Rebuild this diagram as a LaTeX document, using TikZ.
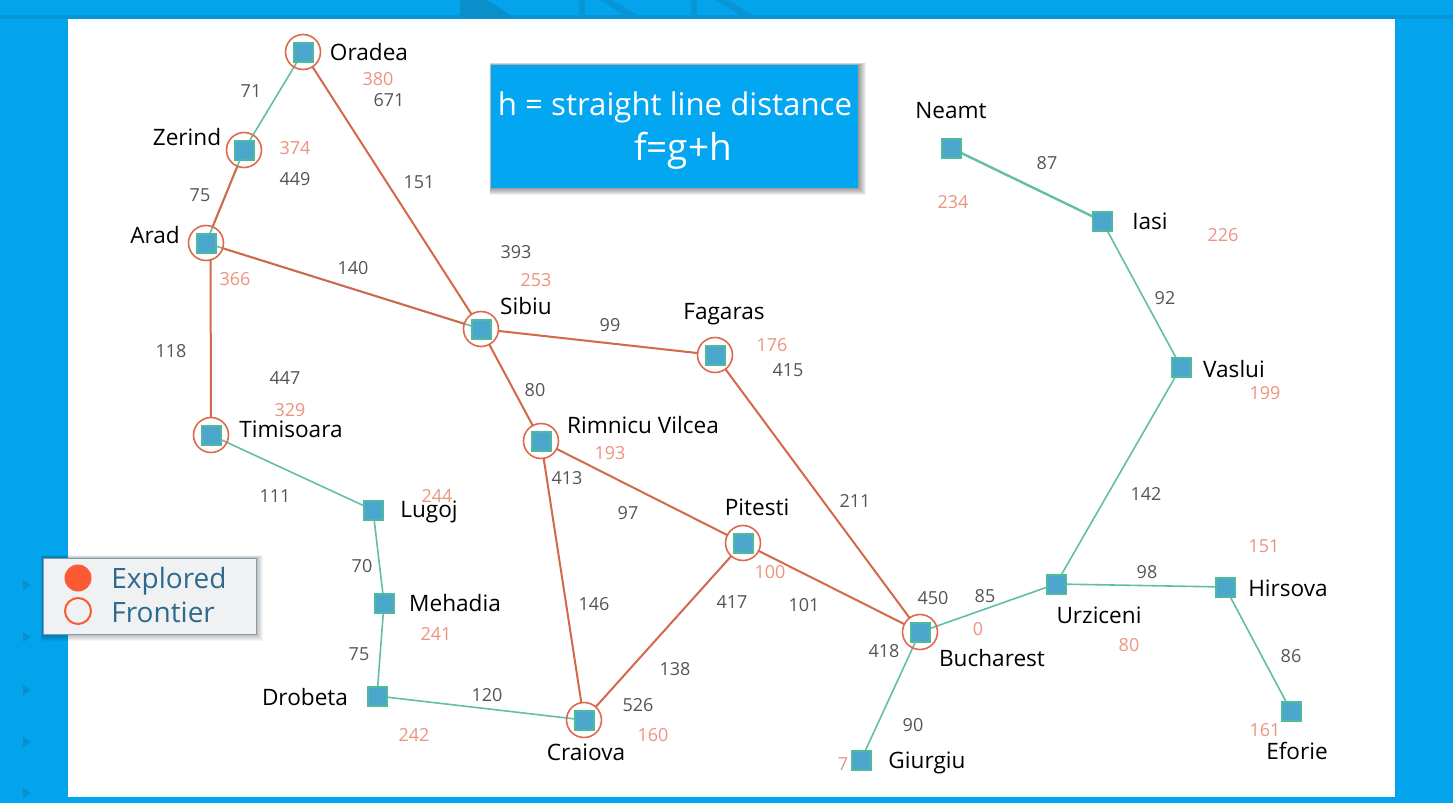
\documentclass[tikz,border=0pt]{standalone}
\usepackage{fontspec}
\setmainfont{Open Sans}
\definecolor{bgblue}{HTML}{03A4EC}
\definecolor{bgdark}{HTML}{0A8FCB}
\definecolor{boxblue}{HTML}{03A6F1}
\definecolor{sqfill}{HTML}{4AA6CB}
\definecolor{sqedge}{HTML}{4FB8A0}
\definecolor{tealedge}{HTML}{62BFA6}
\definecolor{orangeedge}{HTML}{D2694A}
\definecolor{ringc}{HTML}{DE6A4C}
\definecolor{hval}{HTML}{EC9480}
\definecolor{gval}{HTML}{555555}
\definecolor{legfill}{HTML}{F0F1F3}
\definecolor{legtext}{HTML}{2F6A8C}
\definecolor{legedge}{HTML}{7F9BAC}
\definecolor{expl}{HTML}{FB5A33}
\pgfdeclarelayer{panel}
\pgfdeclarelayer{edges}
\pgfsetlayers{panel,edges,main}
\tikzset{
  x=0.5pt,y=-0.5pt,
  city/.style={draw=sqedge,fill=sqfill,line width=1pt,minimum size=9.5pt,inner sep=0pt,outer sep=0pt,rectangle},
  ring/.style={circle,draw=ringc,line width=0.8pt,minimum size=17.5pt,inner sep=0pt,outer sep=0pt},
  cname/.style={text=black,font=\fontsize{11.3}{13}\selectfont,inner sep=0pt},
  hnum/.style={text=hval,font=\fontsize{9}{11}\selectfont,inner sep=0pt},
  gnum/.style={text=gval,font=\fontsize{9}{11}\selectfont,inner sep=0pt},
  road/.style={draw=tealedge,line width=0.8pt},
  roadx/.style={draw=orangeedge,line width=1pt},
  tick/.style={fill=bgdark,draw=none},
}
\begin{document}
\begin{tikzpicture}
\useasboundingbox (0,0) rectangle (1453,803);
\begin{pgfonlayer}{panel}
\fill[bgblue] (0,0) rectangle (1453,803);
% top strip motif
\fill[bgdark!70!bgblue] (0,15) rectangle (1453,19);
\fill[bgdark] (460,0) -- (487,0) -- (515,18) -- (460,18) -- cycle;
\fill[bgdark!70!bgblue] (579,0) rectangle (585,18);
\fill[bgdark!70!bgblue] (691,0) rectangle (697,18);
\fill[bgdark!70!bgblue] (600,0) -- (612,0) -- (642,18) -- (628,18) -- cycle;
\fill[bgdark!70!bgblue] (716,0) -- (728,0) -- (758,18) -- (744,18) -- cycle;
% left markers
\foreach \yy in {585,637,690,742,793}{\fill[tick] (23,\yy-5) -- (31,\yy) -- (23,\yy+5) -- cycle;}
% panel
\fill[white] (68,19) rectangle (1395,797);
\end{pgfonlayer}
% cities
\node[city] (oradea) at (303,52) {};
\node[city] (zerind) at (244,150) {};
\node[city] (arad) at (206,243) {};
\node[city] (timisoara) at (211,435) {};
\node[city] (sibiu) at (481,329) {};
\node[city] (fagaras) at (715,355) {};
\node[city] (rimnicu) at (541,441) {};
\node[city] (pitesti) at (743,543) {};
\node[city] (craiova) at (584,720) {};
\node[city] (bucharest) at (920,632) {};
\node[city] (lugoj) at (373,510) {};
\node[city] (mehadia) at (384,603) {};
\node[city] (drobeta) at (377,696) {};
\node[city] (giurgiu) at (861,760) {};
\node[city] (urziceni) at (1056,584) {};
\node[city] (hirsova) at (1225,587) {};
\node[city] (eforie) at (1291,711) {};
\node[city] (vaslui) at (1181,367) {};
\node[city] (iasi) at (1102,221) {};
\node[city] (neamt) at (951,148) {};
% rings
\foreach \c in {oradea,zerind,arad,timisoara,sibiu,fagaras,rimnicu,pitesti,craiova,bucharest}{
  \node[ring] (r\c) at (\c) {};
}
\begin{pgfonlayer}{edges}
\draw[road] (oradea.center) -- (zerind.center);
\draw[road] (timisoara.center) -- (lugoj.center);
\draw[road] (lugoj.center) -- (mehadia.center);
\draw[road] (mehadia.center) -- (drobeta.center);
\draw[road] (drobeta.center) -- (craiova.center);
\draw[road] (bucharest.center) -- (giurgiu.center);
\draw[road] (bucharest.center) -- (urziceni.center);
\draw[road] (urziceni.center) -- (hirsova.center);
\draw[road] (hirsova.center) -- (eforie.center);
\draw[road] (urziceni.center) -- (vaslui.center);
\draw[road] (vaslui.center) -- (iasi.center);
\draw[road,line width=1.2pt] (iasi.center) -- (neamt.center);
\draw[road] (zerind.center) -- (arad.center);
\draw[road] (arad.center) -- (sibiu.center);
\end{pgfonlayer}
\draw[roadx] (rzerind) -- (rarad);
\draw[roadx] (roradea) -- (rsibiu);
\draw[roadx] (rarad) -- (rsibiu);
\draw[roadx] (rarad.-75) -- (rtimisoara.north);
\draw[roadx] (rsibiu) -- (rfagaras);
\draw[roadx] (rsibiu) -- (rrimnicu);
\draw[roadx] (rrimnicu) -- (rpitesti);
\draw[roadx] (rrimnicu) -- (rcraiova);
\draw[roadx] (rpitesti) -- (rcraiova);
\draw[roadx] (rpitesti) -- (rbucharest);
\draw[roadx] (rfagaras) -- (rbucharest);
% city labels
\node[cname] (t1) at (369,52) {Oradea};
\node[cname] (t2) at (187,137) {Zerind};
\node[cname] (t3) at (155,235) {Arad};
\node[cname] (t4) at (291,429) {Timisoara};
\node[cname] (t5) at (526,306) {Sibiu};
\node[cname] (t6) at (724,314) {Fagaras};
\node[cname] (t7) at (643,425) {Rimnicu Vilcea};
\node[cname] (t8) at (757,507) {Pitesti};
\node[cname] (t9) at (586,752) {Craiova};
\node[cname] (t10) at (992,658) {Bucharest};
\node[cname] (t11) at (429,512) {Lugoj};
\node[cname] (t12) at (455,603) {Mehadia};
\node[cname] (t13) at (305,697) {Drobeta};
\node[cname] (t14) at (927,763) {Giurgiu};
\node[cname] (t15) at (1099,615) {Urziceni};
\node[cname] (t16) at (1288,588) {Hirsova};
\node[cname] (t17) at (1297,751) {Eforie};
\node[cname] (t18) at (1234,369) {Vaslui};
\node[cname] (t19) at (1150,221) {Iasi};
\node[cname] (t20) at (951,111) {Neamt};
% heuristic values
\node[hnum] (h1) at (378,79) {380};
\node[hnum] (h2) at (295,148) {374};
\node[hnum] (h3) at (235,279) {366};
\node[hnum] (h4) at (290,410) {329};
\node[hnum] (h5) at (536,280) {253};
\node[hnum] (h6) at (772,345) {176};
\node[hnum] (h7) at (610,453) {193};
\node[hnum] (h8) at (770,572) {100};
\node[hnum] (h9) at (653,735) {160};
\node[hnum] (h10) at (978,629) {0};
\node[hnum] (h11) at (437,496) {244};
\node[hnum] (h12) at (436,634) {241};
\node[hnum] (h13) at (414,735) {242};
\node[hnum] (h14) at (843,764) {7};
\node[hnum] (h15) at (1129,645) {80};
\node[hnum] (h16) at (1264,546) {151};
\node[hnum] (h17) at (1265,730) {161};
\node[hnum] (h18) at (1265,393) {199};
\node[hnum] (h19) at (1223,235) {226};
\node[hnum] (h20) at (953,202) {234};
% distances and f values
\node[gnum] (g1) at (251,91) {71};
\node[gnum] (g2) at (200,195) {75};
\node[gnum] (g3) at (419,182) {151};
\node[gnum] (g4) at (353,268) {140};
\node[gnum] (g5) at (171,351) {118};
\node[gnum] (g6) at (610,325) {99};
\node[gnum] (g7) at (535,390) {80};
\node[gnum] (g8) at (275,496) {111};
\node[gnum] (g9) at (628,513) {97};
\node[gnum] (g10) at (855,501) {211};
\node[gnum] (g11) at (362,566) {70};
\node[gnum] (g12) at (594,604) {146};
\node[gnum] (g13) at (804,605) {101};
\node[gnum] (g14) at (359,654) {75};
\node[gnum] (g15) at (487,695) {120};
\node[gnum] (g16) at (675,669) {138};
\node[gnum] (g17) at (913,725) {90};
\node[gnum] (g18) at (985,596) {85};
\node[gnum] (g19) at (1147,572) {98};
\node[gnum] (g20) at (1291,656) {86};
\node[gnum] (g21) at (1146,494) {142};
\node[gnum] (g22) at (1165,298) {92};
\node[gnum] (g23) at (1047,163) {87};
\node[gnum] (f1) at (389,100) {671};
\node[gnum] (f2) at (295,179) {449};
\node[gnum] (f3) at (516,252) {393};
\node[gnum] (f4) at (285,378) {447};
\node[gnum] (f5) at (788,370) {415};
\node[gnum] (f6) at (567,478) {413};
\node[gnum] (f7) at (732,602) {417};
\node[gnum] (f8) at (638,705) {526};
\node[gnum] (f9) at (933,598) {450};
\node[gnum] (f10) at (884,651) {418};
% formula box
\foreach \d in {1,2,...,16}{\fill[black,opacity=0.028] (491-\d*0.1,65-\d*0.15) rectangle (858+\d*0.5,188+\d*0.45);}
\node[fill=boxblue,minimum width=183.5pt,minimum height=61.5pt,inner sep=0pt] (box) at (674.5,126.5) {};
\node[text=white,inner sep=0pt,font=\fontsize{15.6}{20}\selectfont,anchor=base] (l1) at (675,115) {h = straight line distance};
\node[text=white,inner sep=0pt,font=\fontsize{18.5}{22}\selectfont,anchor=base] (l2) at (683,160) {f=g+h};
% legend
\foreach \d in {1,2,...,14}{\fill[black,opacity=0.02] (43-\d*0.15,558-\d*0.2) rectangle (256+\d*0.5,634+\d*0.5);}
\node[fill=legfill,draw=legedge,line width=0.5pt,minimum width=106.5pt,minimum height=38pt,inner sep=0pt] (legend) at (149.5,596) {};
\node[circle,fill=expl,minimum size=13.5pt,inner sep=0pt] (ex) at (78,578) {};
\node[circle,draw=expl,fill=legfill,line width=1pt,minimum size=13pt,inner sep=0pt] (fr) at (78,611) {};
\node[text=legtext,font=\fontsize{14}{17}\selectfont,inner sep=0pt,anchor=base west] (ext) at (111,588) {Explored};
\node[text=legtext,font=\fontsize{14}{17}\selectfont,inner sep=0pt,anchor=base west] (frt) at (111,622) {Frontier};
\end{tikzpicture}
\end{document}
